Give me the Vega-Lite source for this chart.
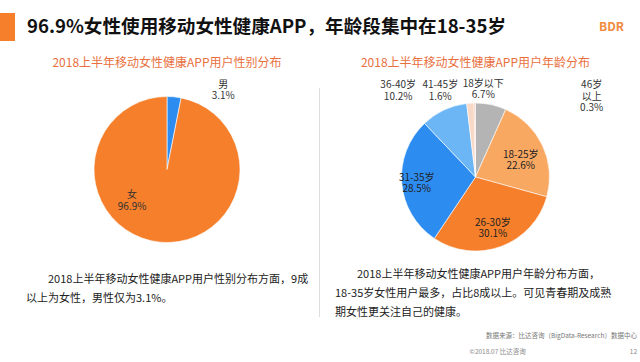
{
  "$schema": "https://vega.github.io/schema/vega-lite/v6.json",
  "background": "white",
  "padding": {"top": 13, "left": 0, "right": 0, "bottom": 0},
  "columns": 4,
  "align": "each",
  "bounds": "flush",
  "spacing": 0,
  "resolve": {"scale": {"color": "independent", "theta": "independent"}},
  "config": {
    "view": {"stroke": null},
    "font": "Noto Sans CJK SC",
    "text": {"font": "Noto Sans CJK SC"},
    "title": {"font": "Noto Sans CJK SC", "subtitleFont": "Noto Sans CJK SC"}
  },
  "datasets": {
    "header": [
      {"title": "96.9%女性使用移动女性健康APP，年龄段集中在18-35岁", "logo": "BDR"}
    ],
    "subtitles": [
      {"panel": "gender", "subtitle": "2018上半年移动女性健康APP用户性别分布"},
      {"panel": "age", "subtitle": "2018上半年移动女性健康APP用户年龄分布"}
    ],
    "gender": [
      {"gender": "男", "share": 3.1, "order": 1, "label": "男\n3.1%"},
      {"gender": "女", "share": 96.9, "order": 2, "label": "女\n96.9%"}
    ],
    "age": [
      {"age": "18岁以下", "share": 6.7, "order": 1, "label": "18岁以下\n6.7%"},
      {"age": "18-25岁", "share": 22.6, "order": 2, "label": "18-25岁\n22.6%"},
      {"age": "26-30岁", "share": 30.1, "order": 3, "label": "26-30岁\n30.1%"},
      {"age": "31-35岁", "share": 28.5, "order": 4, "label": "31-35岁\n28.5%"},
      {"age": "36-40岁", "share": 10.2, "order": 5, "label": "36-40岁\n10.2%"},
      {"age": "41-45岁", "share": 1.6, "order": 6, "label": "41-45岁\n1.6%"},
      {"age": "46岁以上", "share": 0.3, "order": 7, "label": "46岁\n以上\n0.3%"}
    ]
  },
  "concat": [
    {
      "width": 15,
      "height": 28,
      "data": {"name": "header"},
      "layer": [
        {"mark": {"type": "rect", "color": "#F57F2A"}, "encoding": {}},
        {
          "mark": {"type": "text", "align": "left", "baseline": "middle", "dx": 19.5, "fontSize": 18.6, "fontWeight": "bold", "color": "#111111"},
          "encoding": {"text": {"field": "title"}}
        },
        {
          "mark": {"type": "text", "align": "center", "baseline": "middle", "dx": 604, "fontSize": 12, "fontWeight": "bold", "color": "#F08A3C"},
          "encoding": {"text": {"field": "logo"}}
        }
      ]
    },
    {"width": 1, "height": 1, "data": {"values": []}, "mark": {"type": "rect", "opacity": 0}, "encoding": {}},
    {"width": 1, "height": 1, "data": {"values": []}, "mark": {"type": "rect", "opacity": 0}, "encoding": {}},
    {"width": 1, "height": 1, "data": {"values": []}, "mark": {"type": "rect", "opacity": 0}, "encoding": {}},

    {"width": 1, "height": 1, "data": {"values": []}, "mark": {"type": "rect", "opacity": 0}, "encoding": {}},
    {
      "width": 304,
      "height": 47,
      "data": {"name": "subtitles"},
      "transform": [{"filter": "datum.panel == 'gender'"}],
      "mark": {"type": "text", "baseline": "middle", "dy": -2, "fontSize": 12, "color": "#E9703E"},
      "encoding": {"text": {"field": "subtitle"}}
    },
    {"width": 1, "height": 1, "data": {"values": []}, "mark": {"type": "rect", "opacity": 0}, "encoding": {}},
    {
      "width": 311,
      "height": 47,
      "data": {"name": "subtitles"},
      "transform": [{"filter": "datum.panel == 'age'"}],
      "mark": {"type": "text", "baseline": "middle", "dy": -2, "fontSize": 12, "color": "#E9703E"},
      "encoding": {"text": {"field": "subtitle"}}
    },

    {"width": 15, "height": 1, "data": {"values": []}, "mark": {"type": "rect", "opacity": 0}, "encoding": {}},
    {
      "width": 304,
      "height": 163,
      "title": {
        "text": ["\u200b　　2018上半年移动女性健康APP用户性别分布方面，9成", "以上为女性，男性仅为3.1%。"],
        "orient": "bottom",
        "anchor": "start",
        "frame": "group",
        "align": "left",
        "baseline": "top",
        "offset": 15,
        "dx": 11,
        "fontSize": 11,
        "fontWeight": "normal",
        "color": "#222222",
        "lineHeight": 19
      },
      "data": {"name": "gender"},
      "encoding": {
        "theta": {"field": "share", "type": "quantitative", "stack": true},
        "order": {"field": "order", "type": "quantitative"}
      },
      "layer": [
        {
          "mark": {"type": "arc", "outerRadius": 73, "stroke": "white", "strokeWidth": 0.6},
          "encoding": {
            "color": {"field": "gender", "type": "nominal", "scale": {"domain": ["男", "女"], "range": ["#2D8CF0", "#F57F2A"]}, "legend": null}
          }
        },
        {
          "mark": {"type": "text", "radius": 85, "dx": 48, "dy": 0, "lineBreak": "\n", "lineHeight": 11.5, "fontSize": 10, "color": "#333333", "baseline": "middle"},
          "encoding": {
            "detail": {"field": "gender"},
            "text": {"condition": {"test": "datum.gender == '男'", "field": "label"}, "value": ""}
          }
        },
        {
          "mark": {"type": "text", "radius": 40, "dx": -31, "dy": -14, "lineBreak": "\n", "lineHeight": 11.5, "fontSize": 10, "color": "#333333", "baseline": "middle"},
          "encoding": {
            "detail": {"field": "gender"},
            "text": {"condition": {"test": "datum.gender == '女'", "field": "label"}, "value": ""}
          }
        }
      ]
    },
    {"width": 1, "height": 229, "data": {"values": [{}]}, "mark": {"type": "rect", "color": "#DDDDDD"}, "encoding": {}},
    {
      "width": 311,
      "height": 178,
      "title": {
        "text": ["\u200b　　2018上半年移动女性健康APP用户年龄分布方面，", "18-35岁女性用户最多，占比8成以上。可见青春期及成熟", "期女性更关注自己的健康。"],
        "orient": "bottom",
        "anchor": "start",
        "frame": "group",
        "align": "left",
        "baseline": "top",
        "offset": 3,
        "dx": 15,
        "fontSize": 11,
        "fontWeight": "normal",
        "color": "#222222",
        "lineHeight": 19
      },
      "data": {"name": "age"},
      "encoding": {
        "theta": {"field": "share", "type": "quantitative", "stack": true},
        "order": {"field": "order", "type": "quantitative"}
      },
      "layer": [
        {
          "mark": {"type": "arc", "outerRadius": 74, "stroke": "white", "strokeWidth": 0.6},
          "encoding": {
            "color": {
              "field": "age", "type": "nominal",
              "scale": {
                "domain": ["18岁以下", "18-25岁", "26-30岁", "31-35岁", "36-40岁", "41-45岁", "46岁以上"],
                "range": ["#B4B4B4", "#F9A862", "#F57F2A", "#2D8CF0", "#6DB6F6", "#F8D8C6", "#E9B9A6"]
              },
              "legend": null
            }
          }
        },
        {
          "mark": {"type": "text", "radius": 50, "dy": -1, "lineBreak": "\n", "lineHeight": 11.5, "fontSize": 10, "color": "#222222", "baseline": "middle"},
          "encoding": {
            "detail": {"field": "age"},
            "text": {"condition": {"test": "datum.order == 2 || datum.order == 3", "field": "label"}, "value": ""}
          }
        },
        {
          "mark": {"type": "text", "radius": 59, "dy": -4, "lineBreak": "\n", "lineHeight": 11.5, "fontSize": 10, "color": "#222222", "baseline": "middle"},
          "encoding": {
            "detail": {"field": "age"},
            "text": {"condition": {"test": "datum.order == 4", "field": "label"}, "value": ""}
          }
        },
        {
          "mark": {"type": "text", "radius": 90, "dx": -11, "dy": -5, "lineBreak": "\n", "lineHeight": 11.5, "fontSize": 10, "color": "#333333", "baseline": "middle"},
          "encoding": {
            "detail": {"field": "age"},
            "text": {"condition": {"test": "datum.order == 1", "field": "label"}, "value": ""}
          }
        },
        {
          "mark": {"type": "text", "radius": 90, "dx": -39, "dy": -10.5, "lineBreak": "\n", "lineHeight": 11.5, "fontSize": 10, "color": "#333333", "baseline": "middle"},
          "encoding": {
            "detail": {"field": "age"},
            "text": {"condition": {"test": "datum.order == 5", "field": "label"}, "value": ""}
          }
        },
        {
          "mark": {"type": "text", "radius": 90, "dx": -29, "dy": -2, "lineBreak": "\n", "lineHeight": 11.5, "fontSize": 10, "color": "#333333", "baseline": "middle"},
          "encoding": {
            "detail": {"field": "age"},
            "text": {"condition": {"test": "datum.order == 6", "field": "label"}, "value": ""}
          }
        },
        {
          "mark": {"type": "text", "radius": 90, "dx": 117, "dy": -2, "lineBreak": "\n", "lineHeight": 11.5, "fontSize": 10, "color": "#333333", "baseline": "middle"},
          "encoding": {
            "detail": {"field": "age"},
            "text": {"condition": {"test": "datum.order == 7", "field": "label"}, "value": ""}
          }
        }
      ]
    },

    {"width": 1, "height": 1, "data": {"values": []}, "mark": {"type": "rect", "opacity": 0}, "encoding": {}},
    {"width": 1, "height": 1, "data": {"values": []}, "mark": {"type": "rect", "opacity": 0}, "encoding": {}},
    {"width": 1, "height": 1, "data": {"values": []}, "mark": {"type": "rect", "opacity": 0}, "encoding": {}},
    {
      "width": 311,
      "height": 1,
      "data": {"values": []},
      "mark": {"type": "rect", "opacity": 0},
      "encoding": {},
      "title": {
        "text": "数据来源：比达咨询（BigData-Research）数据中心",
        "subtitle": "©2018.07  比达咨询　　　　　　　　　　　　　　　　12",
        "orient": "bottom",
        "anchor": "end",
        "frame": "group",
        "align": "right",
        "baseline": "top",
        "offset": 15,
        "dx": 6,
        "fontSize": 6.5,
        "fontWeight": "normal",
        "color": "#777777",
        "subtitleFontSize": 6.5,
        "subtitleColor": "#888888",
        "subtitlePadding": 9
      }
    }
  ]
}
